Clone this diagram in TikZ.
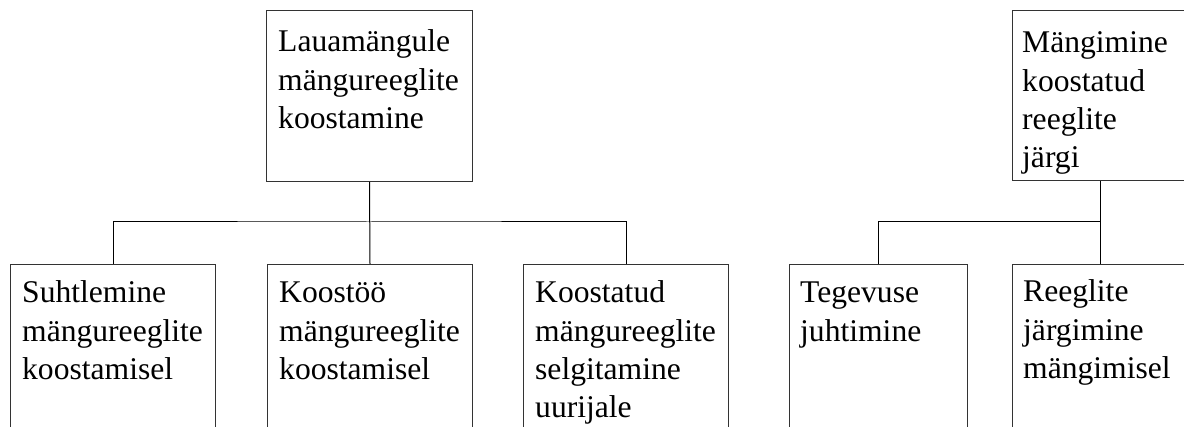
\documentclass[tikz,border=0pt]{standalone}
\usepackage{fontspec}
\setmainfont{Liberation Serif}
\begin{document}
\begin{tikzpicture}[x=1pt,y=-1pt,
  boxnode/.style={draw=black!80, line width=1pt, rectangle, inner sep=0pt, anchor=north west},
  topbox/.style={boxnode, minimum height=171pt},
  lowbox/.style={boxnode, minimum height=200pt},
  txt/.style={inner sep=0pt, anchor=base west, align=left, font=\fontsize{31.6}{38.3}\selectfont},
  conn/.style={draw=black, line width=1pt}]
\useasboundingbox (0,0) rectangle (1184,427);
\clip (0,0) rectangle (1184,427);
% boxes
\node[topbox, minimum width=206pt] (t1) at (266,10) {};
\node[topbox, minimum width=176pt, minimum height=170pt] (t2) at (1012,10) {};
\node[lowbox, minimum width=205pt] (b1) at (10,264) {};
\node[lowbox, minimum width=205pt] (b2) at (267,264) {};
\node[lowbox, minimum width=205pt] (b3) at (523,264) {};
\node[lowbox, minimum width=178pt] (b4) at (789,264) {};
\node[lowbox, minimum width=176pt] (b5) at (1012,264) {};
% texts (base anchor = last line's baseline)
\node[txt] (x1) at ([xshift=12pt,yshift=-118.6pt]t1.north west) {Lauamängule\\mängureeglite\\koostamine};
\node[txt] (x2) at ([xshift=10pt,yshift=-157.9pt]t2.north west) {Mängimine\\koostatud\\reeglite\\järgi};
\node[txt] (y1) at ([xshift=12pt,yshift=-115.6pt]b1.north west) {Suhtlemine\\mängureeglite\\koostamisel};
\node[txt] (y2) at ([xshift=12pt,yshift=-115.6pt]b2.north west) {Koostöö\\mängureeglite\\koostamisel};
\node[txt] (y3) at ([xshift=12pt,yshift=-153.9pt]b3.north west) {Koostatud\\mängureeglite\\selgitamine\\uurijale};
\node[txt] (y4) at ([xshift=11pt,yshift=-77.3pt]b4.north west) {Tegevuse\\juhtimine};
\node[txt] (y5) at ([xshift=11pt,yshift=-114.6pt]b5.north west) {Reeglite\\järgimine\\mängimisel};
% connectors
\coordinate (j1) at (369,222);
\coordinate (j2) at (1100,222);
\draw[conn] (t1.south) -- (b2.north);
\draw[conn] (b1.north) |- (j1) -| (b3.north);
\draw[conn] (t2.south) -- (b5.north);
\draw[conn] (b4.north) |- (j2);
\end{tikzpicture}
\end{document}
